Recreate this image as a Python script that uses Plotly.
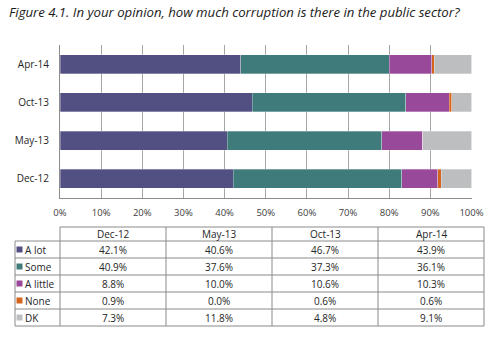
import plotly.graph_objects as go

W, H = 495, 341

title = "Figure 4.1. In your opinion, how much corruption is there in the public sector?"
periods = ["Dec-12", "May-13", "Oct-13", "Apr-14"]
series_names = ["A lot", "Some", "A little", "None", "DK"]
a_lot = [42.1, 40.6, 46.7, 43.9]
some = [40.9, 37.6, 37.3, 36.1]
a_little = [8.8, 10.0, 10.6, 10.3]
none = [0.9, 0.0, 0.6, 0.6]
dk = [7.3, 11.8, 4.8, 9.1]
x_ticks = [0, 10, 20, 30, 40, 50, 60, 70, 80, 90, 100]
x_tick_labels = [f"{t}%" for t in x_ticks]

series_values = [a_lot, some, a_little, none, dk]
colors = ["#524f83", "#3e7b7a", "#99499a", "#d4651f", "#bcbec0"]

FONT = "Open Sans"
TXT = "#262626"

def px_x(p):
    return p / W

def px_y(p):
    return 1 - p / H

fig = go.Figure()
for name, vals, col in zip(series_names, series_values, colors):
    fig.add_trace(go.Bar(
        y=periods, x=vals, name=name, orientation="h",
        marker=dict(color=col, line=dict(color="rgba(255,255,255,0.6)", width=0.5)),
        hoverinfo="x+name",
    ))

# ---- Data table (drawn with paper-referenced shapes and annotations) ----
col_edges = [15, 60, 166, 272, 378, 484]
header_top = 227
header_h = 14
row_h = 17
n_rows = len(series_names)
row_edges = [header_top, header_top + header_h] + [header_top + header_h + row_h * (i + 1) for i in range(n_rows)]
table_bottom = row_edges[-1]
border = "#8a8a8a"

shapes = []
def line(x0, y0, x1, y1):
    shapes.append(dict(type="line", xref="paper", yref="paper",
                       x0=px_x(x0), y0=px_y(y0), x1=px_x(x1), y1=px_y(y1),
                       line=dict(color=border, width=1)))

# horizontal lines
line(col_edges[1], header_top, col_edges[-1], header_top)
for ye in row_edges[1:]:
    line(col_edges[0], ye, col_edges[-1], ye)
# vertical lines
line(col_edges[0], row_edges[1], col_edges[0], table_bottom)
for xe in col_edges[1:]:
    line(xe, header_top, xe, table_bottom)

annotations = []
def txt(s, x, y, anchor="center"):
    annotations.append(dict(text=s, xref="paper", yref="paper", x=px_x(x), y=px_y(y),
                            xanchor=anchor, yanchor="middle", showarrow=False,
                            font=dict(family=FONT, size=10, color=TXT)))

# header
for j, p in enumerate(periods):
    cx = (col_edges[j + 1] + col_edges[j + 2]) / 2
    txt(p, cx, header_top + header_h / 2)
# rows
for i, (name, vals, col) in enumerate(zip(series_names, series_values, colors)):
    cy = (row_edges[i + 1] + row_edges[i + 2]) / 2
    # legend key
    shapes.append(dict(type="rect", xref="paper", yref="paper",
                       x0=px_x(col_edges[0] + 1.5), x1=px_x(col_edges[0] + 7.5),
                       y0=px_y(cy - 3), y1=px_y(cy + 3),
                       fillcolor=col, line=dict(width=0)))
    txt(name, col_edges[0] + 7.5, cy, anchor="left")
    for j in range(len(periods)):
        cx = (col_edges[j + 1] + col_edges[j + 2]) / 2
        txt(f"{vals[j]:.1f}%", cx, cy)

annotations.append(dict(
    text=f"<i>{title}</i>", xref="paper", yref="paper",
    x=px_x(7), y=px_y(12), xanchor="left", yanchor="middle",
    showarrow=False, font=dict(family=FONT, size=13.2, color="#1a1a1a"),
))

fig.update_layout(
    width=W, height=H,
    margin=dict(l=0, r=0, t=0, b=0),
    paper_bgcolor="white", plot_bgcolor="white",
    barmode="stack", bargap=0.5,
    showlegend=False,
    font=dict(family=FONT, size=10, color="#404040"),
    shapes=shapes, annotations=annotations,
    xaxis=dict(
        domain=[px_x(60), px_x(471.5)], range=[0, 100],
        tickvals=x_ticks, ticktext=x_tick_labels,
        showgrid=True, gridcolor="#a6a6a6", gridwidth=1,
        showline=True, linecolor="#8c8c8c", linewidth=1,
        zeroline=False, ticks="", ticklabelstandoff=6,
        tickfont=dict(family=FONT, size=9.5, color="#404040"),
        fixedrange=True, automargin=False,
    ),
    yaxis=dict(
        domain=[px_y(198), px_y(45)], range=[-0.5, 3.5],
        type="category", categoryorder="array", categoryarray=periods,
        showgrid=False, showline=True, linecolor="#8c8c8c", linewidth=1,
        ticks="", ticklabelstandoff=8,
        tickfont=dict(family=FONT, size=10, color=TXT),
        fixedrange=True, automargin=False,
    ),
)

fig.write_html("out.html")
